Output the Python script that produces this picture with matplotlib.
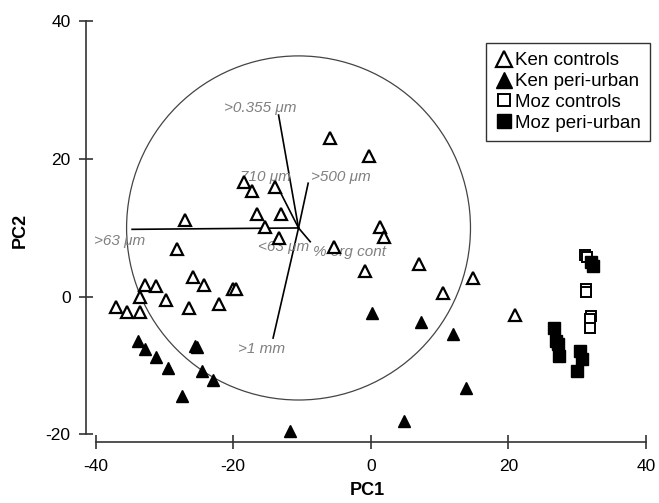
import numpy as np
import matplotlib
matplotlib.use('Agg')
import matplotlib.pyplot as plt
from matplotlib.patches import Circle

plt.rcParams['font.family'] = ['Liberation Sans', 'DejaVu Sans']
plt.rcParams['axes.unicode_minus'] = False

### sample scores on the first two components
ken_ctrl_pc1 = [-5.9, -0.2, -18.4, -17.3, -13.9, -16.5, -13.1, -15.4, -27.0, -13.4,
                -5.4, 1.4, 1.9, 7.0, -0.8, 14.8, 10.5, 21.0, -28.2, -25.9,
                -24.2, -32.8, -31.2, -33.5, -29.7, -20.0, -19.6, -37.0, -35.5, -33.6,
                -26.4, -22.0]
ken_ctrl_pc2 = [23.0, 20.5, 16.7, 15.3, 16.0, 12.0, 12.1, 10.2, 11.2, 8.5,
                7.2, 10.2, 8.7, 4.7, 3.8, 2.8, 0.6, -2.7, 7.0, 2.9,
                1.7, 1.7, 1.5, -0.1, -0.4, 1.1, 1.2, -1.5, -2.2, -2.2,
                -1.6, -1.0]

ken_peri_pc1 = [-33.8, -32.8, -31.2, -29.5, -25.5, -25.3, -24.5, -22.9, -27.4, -11.8,
                0.2, 7.3, 12.0, 13.9, 4.8]
ken_peri_pc2 = [-6.4, -7.6, -8.8, -10.4, -7.1, -7.3, -10.8, -12.1, -14.4, -19.5,
                -2.4, -3.7, -5.4, -13.2, -18.0]

moz_ctrl_pc1 = [31.2, 31.4, 31.3, 31.3, 32.0, 31.9, 31.9]
moz_ctrl_pc2 = [6.1, 5.8, 1.1, 0.7, -2.8, -3.2, -4.6]

moz_peri_pc1 = [32.0, 32.3, 26.7, 26.9, 27.2, 27.4, 30.4, 30.7, 30.0]
moz_peri_pc2 = [5.0, 4.5, -4.5, -6.4, -6.9, -8.6, -7.9, -9.1, -10.8]

### variable loadings (tips of the vectors) and label anchors
var_names = ['>63 \u03bcm', '>0.355 \u03bcm', '710 \u03bcm', '>500 \u03bcm',
             '% org cont', '>1 mm', '<63 \u03bcm']
var_tip_x = [-34.7, -13.4, -13.2, -9.1, -8.8, -14.2, -10.5]
var_tip_y = [9.8, 26.4, 15.3, 16.5, 8.0, -6.0, 10.0]
label_x = [-40.2, -21.3, -19.0, -8.7, -8.4, -19.3, -16.4]
label_y = [8.1, 27.4, 17.4, 17.4, 6.5, -7.6, 7.3]

origin = (-10.5, 10.0)
radius = 25.0

### figure
fig = plt.figure(figsize=(6.59, 5.03), dpi=100)
ax = fig.add_axes([0.1305, 0.1213, 0.8548, 0.8428])
ax.set_xlim(-41.4, 40.5)
ax.set_ylim(-21.1, 40.5)

### correlation circle and vectors
ax.add_patch(Circle(origin, radius, fill=False, edgecolor='#444444', lw=0.9, zorder=1))
for tx, ty in zip(var_tip_x, var_tip_y):
    ax.plot([origin[0], tx], [origin[1], ty], color='black', lw=1.2, zorder=2)
for name, lx, ly in zip(var_names, label_x, label_y):
    ax.text(lx, ly, name, color='#808080', style='italic', fontsize=11,
            ha='left', va='center', zorder=3)

### points
ax.plot(ken_ctrl_pc1, ken_ctrl_pc2, '^', ms=9, mfc='white', mec='black', mew=1.6,
        ls='none', label='Ken controls', zorder=4)
ax.plot(ken_peri_pc1, ken_peri_pc2, '^', ms=9, mfc='black', mec='black', mew=1.0,
        ls='none', label='Ken peri-urban', zorder=4)
ax.plot(moz_ctrl_pc1, moz_ctrl_pc2, 's', ms=7, mfc='white', mec='black', mew=1.4,
        ls='none', label='Moz controls', zorder=4)
ax.plot(moz_peri_pc1, moz_peri_pc2, 's', ms=8, mfc='black', mec='black', mew=1.0,
        ls='none', label='Moz peri-urban', zorder=4)

### axes styling
for side in ['top', 'right']:
    ax.spines[side].set_visible(False)
ax.spines['left'].set_bounds(-20, 40)
ax.spines['bottom'].set_bounds(-40, 40)
for side in ['left', 'bottom']:
    ax.spines[side].set_color('#333333')
    ax.spines[side].set_linewidth(1.2)
ax.set_xticks([-40, -20, 0, 20, 40])
ax.set_yticks([-20, 0, 20, 40])
ax.tick_params(direction='inout', length=10, width=1.2, color='#333333',
               labelsize=12.5)
ax.tick_params(axis='x', pad=7)
ax.tick_params(axis='y', pad=6)
ax.set_xlabel('PC1', fontsize=13, fontweight='bold', labelpad=6)
ax.set_ylabel('PC2', fontsize=13, fontweight='bold', labelpad=12)

leg = ax.legend(loc='upper right', bbox_to_anchor=(650 / 659, 1 - 42.7 / 503),
                bbox_transform=fig.transFigure, fontsize=13.5, frameon=True,
                fancybox=False, edgecolor='black', handlelength=0.9,
                handletextpad=0.15, labelspacing=0.2, borderpad=0.5,
                borderaxespad=0, markerscale=1.3)
leg.get_frame().set_linewidth(1.0)

plt.savefig('out.png', dpi=100)
